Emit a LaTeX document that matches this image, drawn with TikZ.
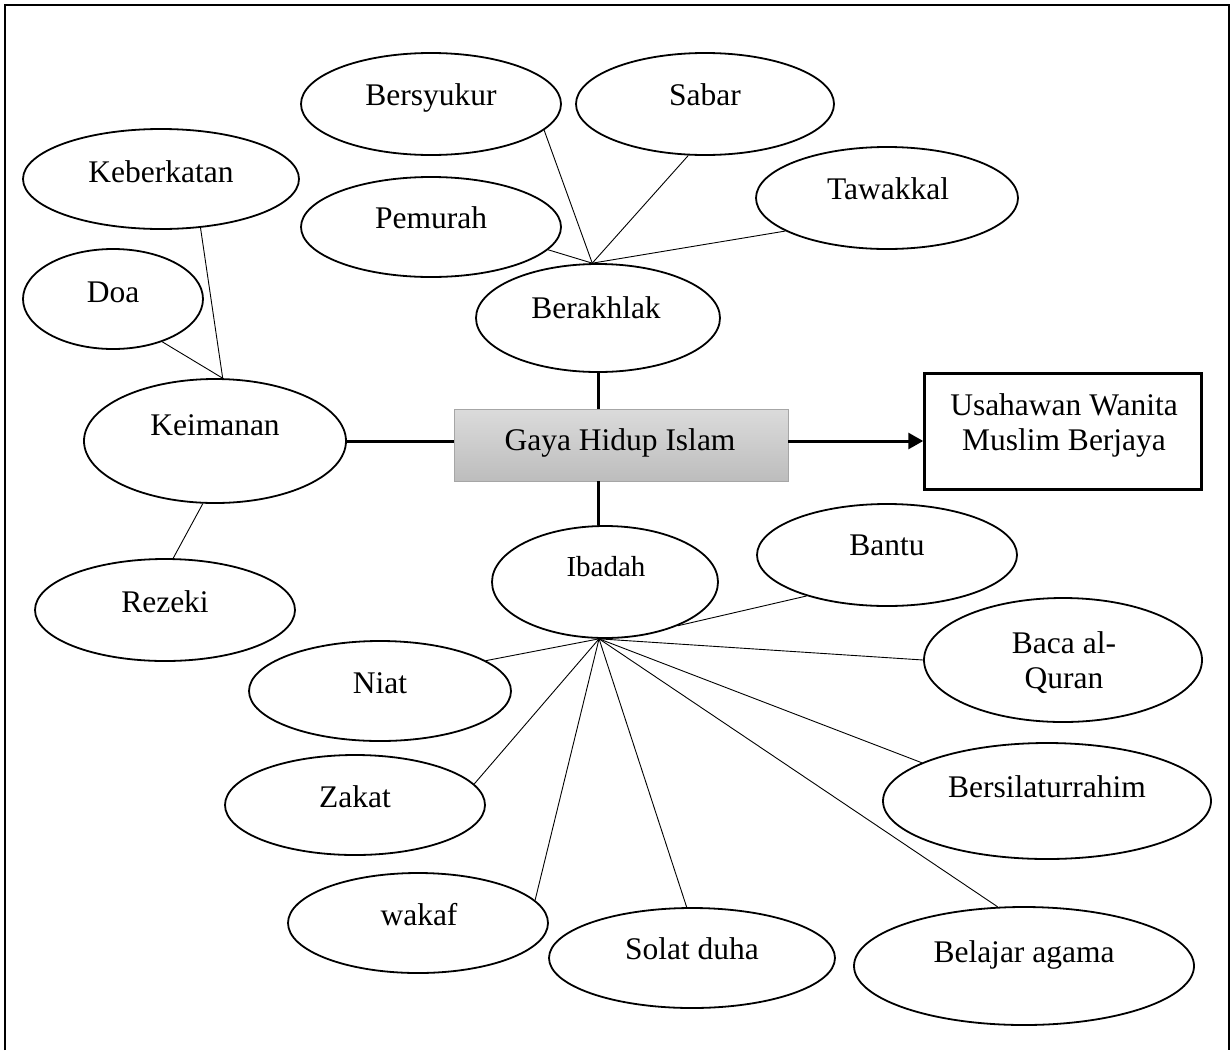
\documentclass[tikz,border=0pt]{standalone}
\usepackage{fontspec}
\setmainfont{Liberation Serif}
\usetikzlibrary{shapes.geometric,arrows.meta}
\begin{document}
\begin{tikzpicture}[x=1pt,y=-1pt,
  ell/.style={draw,ellipse,line width=1.8pt,inner sep=0pt},
  lbl/.style={anchor=base,inner sep=0pt,font=\fontsize{31.5}{38}\selectfont},
  conn/.style={line width=0.9pt},
  heavy/.style={line width=3pt}]
\useasboundingbox (0,0) rectangle (1231,1050);
% outer frame
\draw[line width=2.2pt] (5,1050) -- (5,5) -- (1229,5) -- (1229,1050);

% central box and goal
\node[draw=gray!70,line width=0.8pt,top color=gray!28,bottom color=gray!52,minimum width=334pt,minimum height=72pt,inner sep=0pt] (gaya) at (621,445) {};
\node[lbl] (gayaT) at (620,450) {Gaya Hidup Islam};
\node[draw,line width=2.5pt,minimum width=277pt,minimum height=116pt,inner sep=0pt] (usa) at (1063,431.5) {};
\node[lbl] (usaT1) at (1064,415) {Usahawan Wanita};
\node[lbl] (usaT2) at (1064,450) {Muslim Berjaya};

% Keimanan group
\node[ell,minimum width=276pt,minimum height=100pt] (keb) at (161,179) {};
\node[lbl] (kebT) at (161,182) {Keberkatan};
\node[ell,minimum width=180pt,minimum height=100pt] (doa) at (113,299) {};
\node[lbl] (doaT) at (113,302) {Doa};
\node[ell,minimum width=262pt,minimum height=124pt] (kei) at (215,441) {};
\node[lbl] (keiT) at (215,435) {Keimanan};
\node[ell,minimum width=260pt,minimum height=102pt] (rez) at (165,610) {};
\node[lbl] (rezT) at (165,612) {Rezeki};

% Berakhlak group
\node[ell,minimum width=260pt,minimum height=102pt] (bsy) at (431,104) {};
\node[lbl] (bsyT) at (431,105) {Bersyukur};
\node[ell,minimum width=258pt,minimum height=102pt] (sab) at (705,104) {};
\node[lbl] (sabT) at (705,105) {Sabar};
\node[ell,minimum width=260pt,minimum height=100pt] (pem) at (431,227) {};
\node[lbl] (pemT) at (431,228) {Pemurah};
\node[ell,minimum width=262pt,minimum height=102pt] (tawk) at (887,198) {};
\node[lbl] (tawkT) at (888,199) {Tawakkal};
\node[ell,minimum width=244pt,minimum height=108pt] (berak) at (598,318) {};
\node[lbl] (berakT) at (596,318) {Berakhlak};

% Ibadah group
\node[ell,minimum width=226pt,minimum height=112pt] (ib) at (605,582) {};
\node[lbl,font=\fontsize{29}{34}\selectfont] (ibT) at (606,576) {Ibadah};
\node[ell,minimum width=260pt,minimum height=102pt] (ban) at (887,555) {};
\node[lbl] (banT) at (887,555) {Bantu};
\node[ell,minimum width=278pt,minimum height=124pt] (baca) at (1063,660) {};
\node[lbl] (bacaT1) at (1064,653) {Baca al-};
\node[lbl] (bacaT2) at (1064,688) {Quran};
\node[ell,minimum width=328pt,minimum height=116pt] (bsl) at (1047,801) {};
\node[lbl] (bslT) at (1047,797) {Bersilaturrahim};
\node[ell,minimum width=340pt,minimum height=118pt] (bel) at (1024,966) {};
\node[lbl] (belT) at (1024,962) {Belajar agama};
\node[ell,minimum width=286pt,minimum height=100pt] (sol) at (692,958) {};
\node[lbl] (solT) at (692,959) {Solat duha};
\node[ell,minimum width=262pt,minimum height=100pt] (niat) at (380,691) {};
\node[lbl] (niatT) at (380,693) {Niat};
\node[ell,minimum width=260pt,minimum height=100pt] (zak) at (355,805) {};
\node[lbl] (zakT) at (355,807) {Zakat};
\node[ell,minimum width=260pt,minimum height=100pt] (wak) at (418,923) {};
\node[lbl] (wakT) at (419,925) {wakaf};

% heavy connectors
\coordinate (arrowy) at (0,441);
\draw[heavy] (kei.east) -- (gaya.west |- kei.east);
\draw[heavy] (berak.south) -- (berak.south |- gaya.north);
\draw[heavy] (berak.south |- gaya.south) -- (berak.south |- ib.north);
\draw[heavy,-{Triangle[length=15pt,width=16pt]}] (gaya.east |- arrowy) -- (usa.west |- arrowy);

% Keimanan connectors
\draw[conn] (keb.-51) -- (kei.83);
\draw[conn] (doa.-41) -- (kei.83);
\draw[conn] (kei.-101) -- (rez.81);

% Berakhlak connectors
\draw[conn] (pem.-11) -- (berak.96);
\draw[conn] (bsy.-13) -- (berak.96);
\draw[conn] (sab.-108) -- (berak.96);
\draw[conn] (tawk.-162) -- (berak.96);

% Ibadah connectors
\draw[conn] (ban.-153) -- (ib.-31);
\draw[conn] (ib.-96) -- (baca.west);
\draw[conn] (ib.-96) -- (bsl.163);
\draw[conn] (ib.-96) -- (bel.114);
\draw[conn] (ib.-96) -- (sol.96);
\draw[conn] (ib.-96) -- (wak.11);
\draw[conn] (ib.-96) -- (zak.10);
\draw[conn] (ib.-96) -- (niat.16);
\end{tikzpicture}
\end{document}
